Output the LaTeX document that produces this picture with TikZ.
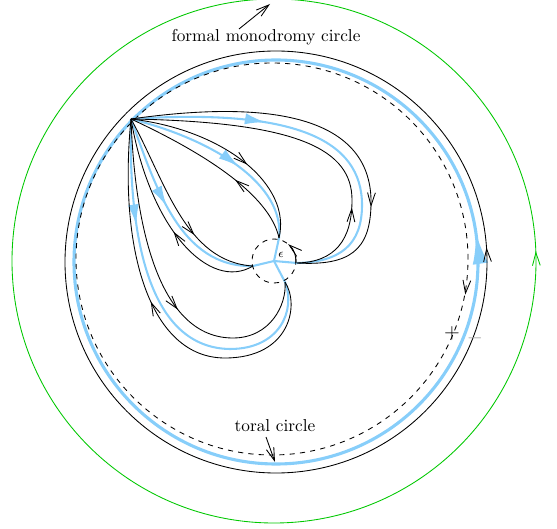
\documentclass[tikz,border=0pt]{standalone}
\usepackage{amsmath}
\usepackage{amsfonts}
\usepackage{amssymb}
\usetikzlibrary{arrows.meta,decorations.markings}
\definecolor{skyblue}{RGB}{135,206,250}
\definecolor{monogreen}{RGB}{0,200,0}

\begin{document}
\begin{tikzpicture}[x = 0.58pt, y = 0.58pt, line width = 0.5pt,
                        > = {Straight Barb[length = 7.5pt, width = 4.5pt]},
                        arrowat/.style = {postaction = {decorate},
                            decoration = {markings, mark = at position #1 with {\arrow{>}}}},
                        backarrowat/.style = {postaction = {decorate},
                            decoration = {markings, mark = at position #1 with {\arrow{<}}}},
                        blueline/.style = {draw = skyblue, line width = 1.2pt},
                        bigblue/.style = {draw = skyblue, line width = 1.8pt},
                        bluearrowat/.style = {blueline, postaction = {decorate},
                            decoration = {markings, mark = at position #1 with {\arrow{Latex[length = 12pt, width = 6.5pt]}}}},
                        bigbluearrowat/.style = {bigblue, postaction = {decorate},
                            decoration = {markings, mark = at position #1 with {\arrow{Latex[length = 18pt, width = 9pt]}}}}]
      \useasboundingbox (0, 0) rectangle (557, -529);
      \coordinate (base) at (131, -119);
      \coordinate (eps) at (274, -261);
      \coordinate (et) at (279, -238);
      \coordinate (el) at (253, -266);
      \coordinate (er) at (297, -263);
      \coordinate (eb) at (285, -282);
      \draw [monogreen, arrowat = 0.006] (274, -261) circle (262);
      \draw [bigbluearrowat = 0.023] (276, -262) circle (202);
      \draw [arrowat = 0.011] (276, -262) circle (211);
      \draw [dashed, backarrowat = 0.983] (272, -259) circle (196);
      \draw [bluearrowat = 0.36] (base) .. controls (295, -108) and (362, -140) .. (362, -205)
                                        .. controls (362, -245) and (340, -262) .. (er);
      \draw [bluearrowat = 0.58] (base) .. controls (215, -140) and (285, -185) .. (et);
      \draw [bluearrowat = 0.46] (base) .. controls (155, -185) and (180, -268) .. (el);
      \draw [bluearrowat = 0.28] (base) .. controls (128, -240) and (150, -348) .. (230, -349)
                                        .. controls (280, -349) and (296, -310) .. (eb);
      \draw [blueline] (eps) -- (et);
      \draw [blueline] (eps) -- (el);
      \draw [blueline] (eps) -- (er);
      \draw [blueline] (eps) -- (eb);
      \draw [arrowat = 0.73] (base) .. controls (300, -95) and (373, -130) .. (371, -205)
                                   .. controls (370, -250) and (350, -266) .. (er);
      \draw [arrowat = 0.25] (er) .. controls (335, -262) and (352, -240) .. (352, -200)
                                 .. controls (352, -150) and (300, -122) .. (base);
      \draw [arrowat = 0.6] (base) .. controls (225, -130) and (292, -185) .. (et);
      \draw [arrowat = 0.38] (et) .. controls (272, -205) and (230, -165) .. (base);
      \draw [arrowat = 0.66] (base) .. controls (165, -180) and (185, -262) .. (el);
      \draw [arrowat = 0.44] (el) .. controls (210, -292) and (150, -230) .. (base);
      \draw [arrowat = 0.57] (base) .. controls (135, -230) and (160, -338) .. (233, -338)
                                   .. controls (270, -338) and (287, -305) .. (eb);
      \draw [arrowat = 0.54] (eb) .. controls (300, -305) and (290, -358) .. (225, -358)
                                 .. controls (150, -358) and (118, -250) .. (base);
      \draw [dashed] (eps) circle (22);
      \draw [->] ([shift = {(-5:22)}]eps) arc [start angle = -5, end angle = 50, radius = 22];
      \node [font = \scriptsize] (epslabel) at (281, -255) {$\epsilon$};
      \node (formal) at (266, -37) {formal monodromy circle};
      \coordinate (formalfoot) at (239, -29);
      \coordinate (formaltip) at (270, -4);
      \draw [->] (formalfoot) -- (formaltip);
      \node (toral) at (275, -426) {toral circle};
      \coordinate (toralfoot) at (266, -437);
      \coordinate (toraltip) at (275, -462);
      \draw [->] (toralfoot) -- (toraltip);
      \node [font = \large] (plus) at (452, -333) {$+$};
      \node [font = \large, gray!70] (minus) at (475, -338) {$-$};
    \end{tikzpicture}
\end{document}
